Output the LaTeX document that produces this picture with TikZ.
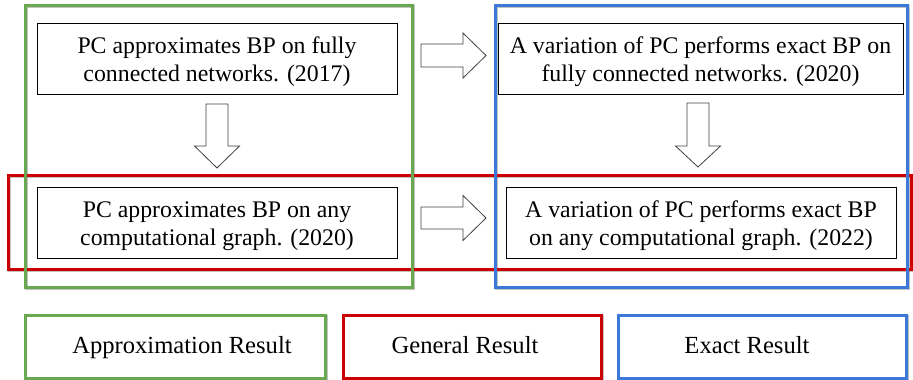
\documentclass[tikz,border=0pt]{standalone}
\usepackage{fontspec}
\setmainfont{Liberation Serif}
\definecolor{grpgreen}{RGB}{106,168,79}
\definecolor{grpred}{RGB}{204,0,0}
\definecolor{grpblue}{RGB}{60,120,216}
\begin{document}
\begin{tikzpicture}[x=1pt,y=-1pt,
  resultbox/.style={draw=black, line width=0.9pt, inner sep=0pt},
  boxtext/.style={align=center, inner sep=0pt, font=\fontsize{23.8}{28}\selectfont},
  frame/.style={line width=3pt},
  frameshadow/.style={draw=black!60, opacity=0.4, line width=3pt},
  blockarrow/.style={draw=black!75, line width=0.8pt, fill=white, line join=miter},
  legendbox/.style={inner sep=0pt, line width=3pt, fill=white},
  legendtext/.style={inner sep=0pt, font=\fontsize{24.6}{28}\selectfont}]

\useasboundingbox (0,0) rectangle (913,380);

% result boxes
\node[resultbox, minimum width=360pt, minimum height=71pt] (b1) at (217,58.5) {};
\node[resultbox, minimum width=360pt, minimum height=71pt] (b2) at (217,222.5) {};
\node[resultbox, minimum width=405pt, minimum height=71pt] (b3) at (700.5,58.5) {};
\node[resultbox, minimum width=390pt, minimum height=71pt] (b4) at (701,222.5) {};

\node[boxtext] (t1) at ([yshift=-3.5pt]b1.center) {PC approximates BP on fully\\connected networks. (2017)};
\node[boxtext] (t2) at ([yshift=-3.5pt]b2.center) {PC approximates BP on any\\computational graph. (2020)};
\node[boxtext] (t3) at ([yshift=-3.5pt]b3.center) {A variation of PC performs exact BP on\\fully connected networks. (2020)};
\node[boxtext] (t4) at ([yshift=-3.5pt]b4.center) {A variation of PC performs exact BP\\on any computational graph. (2022)};

% block arrows
\draw[blockarrow] (421,44) -- (463,44) -- (463,33) -- (486,55.5) -- (463,78) -- (463,67) -- (421,67) -- cycle;
\draw[blockarrow] (421,207) -- (463,207) -- (463,195.5) -- (486,218) -- (463,240.5) -- (463,229) -- (421,229) -- cycle;
\draw[blockarrow] (206,104) -- (228,104) -- (228,146) -- (239.5,146) -- (217,168) -- (194.5,146) -- (206,146) -- cycle;
\draw[blockarrow] (687,103) -- (709,103) -- (709,146) -- (720.5,146) -- (698,167) -- (675.5,146) -- (687,146) -- cycle;

% group frames with soft shadows
\begin{scope}[shift={(1.2,1.8)}]
  \draw[frameshadow] (8,175) rectangle (911,269);
  \draw[frameshadow] (25,5) rectangle (412,287);
  \draw[frameshadow] (495,5) rectangle (907,287);
  \draw[frameshadow] (25,315) rectangle (325,378);
  \draw[frameshadow] (343,315) rectangle (601,378);
  \draw[frameshadow] (618,315) rectangle (906,378);
\end{scope}
\draw[frame, draw=grpred] (8,175) rectangle (911,269);
\draw[frame, draw=grpgreen] (25,5) rectangle (412,287);
\draw[frame, draw=grpblue] (495,5) rectangle (907,287);

% legend
\node[legendbox, draw=grpgreen, minimum width=300pt, minimum height=63pt] (l1) at (175,346.5) {};
\node[legendbox, draw=grpred, minimum width=258pt, minimum height=63pt] (l2) at (472,346.5) {};
\node[legendbox, draw=grpblue, minimum width=288pt, minimum height=63pt] (l3) at (762,346.5) {};
\node[legendtext, anchor=base] (lt1) at (182,353) {Approximation Result};
\node[legendtext, anchor=base] (lt2) at (465,353) {General Result};
\node[legendtext, anchor=base] (lt3) at (747,353) {Exact Result};
\end{tikzpicture}
\end{document}
